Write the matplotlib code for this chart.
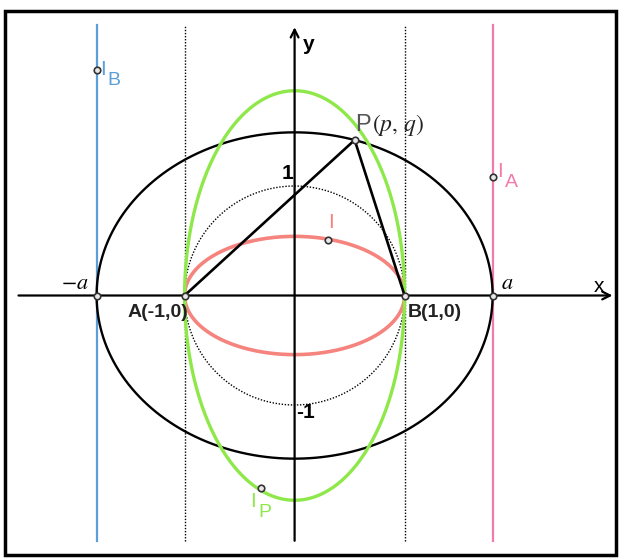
import numpy as np
import matplotlib.pyplot as plt
from matplotlib.patches import Rectangle

plt.rcParams['mathtext.fontset'] = 'stix'

# semi-axes of the curves
a_big, b_big = 1.80, 1.49      # ellipse with foci A, B
red_ax = (1.0, 0.54)           # locus of I
green_ax = (1.0, 1.87)         # locus of I_P
circle_r = 1.0

# points
A = (-1.0, 0.0)
B = (1.0, 0.0)
P = (0.546, 1.42)
I = (0.305, 0.51)
I_A = (1.80, 1.083)
I_B = (-1.80, 2.06)
I_P = (-0.305, -1.76)

# extents of the vertical lines and axes
v_top, v_bot = 2.47, -2.24
x_left, x_right = -2.51, 2.89

blue = '#5b9fda'
pink = '#f27bab'
green = '#8ee84a'
red = '#f5847f'
sans = 'Liberation Sans'

fig = plt.figure(figsize=(6.2, 5.58), dpi=100)
ax = fig.add_axes([0, 0, 1, 1])
px = 110.0
ax.set_xlim(-294.6 / px, (620 - 294.6) / px)
ax.set_ylim(-(558 - 295.5) / 109.5, 295.5 / 109.5)
ax.axis('off')

t = np.linspace(0, 2 * np.pi, 400)

# vertical lines
ax.plot([-a_big, -a_big], [v_bot, v_top], color=blue, lw=1.6, zorder=2)
ax.plot([a_big, a_big], [v_bot, v_top], color=pink, lw=1.6, zorder=2)
for xv in (A[0], B[0]):
    ax.plot([xv, xv], [v_bot, v_top], color='black', lw=1.0, ls=(0, (1, 1.2)), zorder=2)

# dotted unit circle
ax.plot(circle_r * np.cos(t), circle_r * np.sin(t), color='black', lw=1.0,
        ls=(0, (1, 1.2)), zorder=2)

# curves
ax.plot(a_big * np.cos(t), b_big * np.sin(t), color='black', lw=1.7, zorder=3)
ax.plot(red_ax[0] * np.cos(t), red_ax[1] * np.sin(t), color=red, lw=2.6, zorder=3)
ax.plot(green_ax[0] * np.cos(t), green_ax[1] * np.sin(t), color=green, lw=2.4, zorder=3)

# triangle sides
ax.plot([A[0], P[0], B[0]], [A[1], P[1], B[1]], color='black', lw=1.9, zorder=4)

# axes with arrows
ax.annotate('', xy=(x_right, 0), xytext=(x_left, 0),
            arrowprops=dict(arrowstyle='->', color='black', lw=1.6,
                            mutation_scale=14, shrinkA=0, shrinkB=0), zorder=4)
ax.annotate('', xy=(0, v_top - 0.02), xytext=(0, v_bot),
            arrowprops=dict(arrowstyle='->', color='black', lw=1.6,
                            mutation_scale=14, shrinkA=0, shrinkB=0), zorder=4)

# marked points
pts = [(-a_big, 0), A, B, (a_big, 0), P, I, I_A, I_B, I_P]
ax.scatter([p[0] for p in pts], [p[1] for p in pts], s=22, facecolor='#e8e8e8',
           edgecolor='#333333', linewidth=1.2, zorder=6)


def sub_label(x, y, sub, color):
    # "I" with a large subscript letter
    ax.text(x, y, 'I', fontsize=15, family=sans, color=color, va='center')
    ax.text(x + 0.07, y - 0.1, sub, fontsize=14, family=sans, color=color, va='center')


# labels
ax.text(0.07, 2.29, 'y', fontsize=15, family=sans, weight='bold', va='center')
ax.text(2.77, 0.08, 'x', fontsize=15, family=sans, va='center', ha='center')
ax.text(-0.06, 1.11, '1', fontsize=15, family=sans, weight='bold', ha='center', va='center')
ax.text(0.10, -1.07, '-1', fontsize=15, family=sans, weight='bold', ha='center', va='center')
ax.text(-2.0, 0.11, r'$-a$', fontsize=16, ha='center', va='center')
ax.text(1.93, 0.11, r'$a$', fontsize=16, ha='center', va='center')
ax.text(-0.97, -0.155, 'A(-1,0)', fontsize=14, family=sans, weight='bold',
        color='#222222', ha='right', va='center')
ax.text(1.03, -0.155, 'B(1,0)', fontsize=14, family=sans, weight='bold',
        color='#222222', ha='left', va='center')
ax.text(0.55, 1.56, 'P', fontsize=17, family=sans, color='#555555', va='center')
ax.text(0.70, 1.56, r'$(p,\,q)$', fontsize=17, color='#222222', va='center')
ax.text(0.33, 0.67, 'I', fontsize=15, family=sans, color=red, ha='center', va='center')
sub_label(1.84, 1.13, 'A', pink)
sub_label(-1.77, 2.06, 'B', blue)
sub_label(-0.40, -1.88, 'P', green)

# frame around the figure
fig.patches.append(Rectangle((5 / 620, 3 / 558), 611 / 620, 544 / 558,
                             transform=fig.transFigure, fill=False,
                             edgecolor='black', lw=2.5))

fig.savefig('out.png', dpi=100)
